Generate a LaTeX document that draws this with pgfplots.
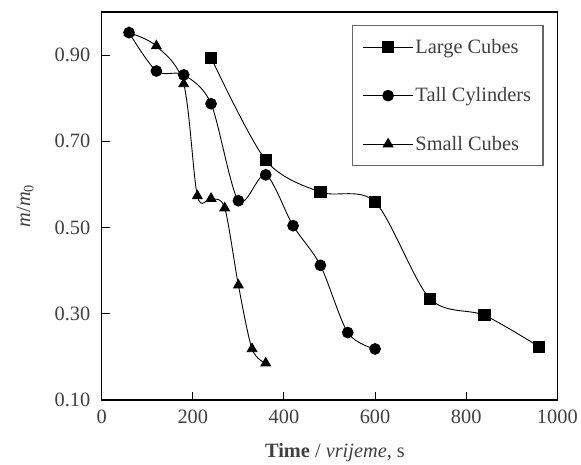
\documentclass[border=0pt]{standalone}
\usepackage{fontspec}
\setmainfont{Liberation Serif}
\usepackage{pgfplots}
\pgfplotsset{compat=1.18}

\begin{document}
\begin{tikzpicture}
\begin{axis}[
  scale only axis, width=457bp, height=389bp,
  xmin=0, xmax=1000, ymin=0.1, ymax=1.0,
  xtick={0,200,400,600,800,1000},
  ytick={0.1,0.3,0.5,0.7,0.9},
  /pgf/number format/assume math mode=true,
  /pgf/number format/1000 sep={},
  yticklabel style={/pgf/number format/.cd, fixed, fixed zerofill, precision=2,
    /tikz/.cd, xshift=-8bp},
  xticklabel style={yshift=-7bp},
  ticklabel style={font=\fontsize{20.5}{24}\selectfont, text=black!75},
  tick align=inside, tick pos=left, major tick length=8bp,
  tick style={line width=1bp, black},
  axis line style={line width=1.5bp},
  xlabel={\textbf{Time} / \textit{vrijeme}, s},
  ylabel={\textit{m}/\textit{m}\textsubscript{0}},
  label style={font=\fontsize{20.5}{24}\selectfont, text=black!75},
  xlabel style={at={(axis description cs:0.512,-0.135)}, anchor=center},
  ylabel style={at={(axis description cs:-0.168,0.5)}, anchor=center, rotate=0},
  legend style={at={(rel axis cs:0.97,0.967)}, anchor=north east,
    draw=black!60, line width=1.2bp, font=\fontsize{20.5}{24}\selectfont,
    text=black!75, row sep=29bp, inner xsep=10bp, inner ysep=12bp},
  legend cell align=left,
  legend image code/.code={\draw[mark repeat=2,mark phase=2,#1]
    plot coordinates {(0bp,0bp) (25bp,0bp) (50bp,0bp)};},
]
\addplot[black, line width=0.9bp, smooth, tension=0.5,
  mark=square*, mark size=5.6bp, mark options={solid, fill=black}] coordinates {
  (240,0.894) (360,0.656) (480,0.582) (600,0.559) (720,0.335) (840,0.296) (960,0.223)
};
\addlegendentry{Large Cubes}
\addplot[black, line width=0.9bp, smooth, tension=0.5,
  mark=*, mark size=5.4bp, mark options={solid, fill=black}] coordinates {
  (60,0.952) (120,0.863) (180,0.854) (240,0.787) (300,0.562) (360,0.622)
  (420,0.504) (480,0.412) (540,0.256) (600,0.218)
};
\addlegendentry{Tall Cylinders}
\addplot[black, line width=0.9bp, smooth, tension=0.5,
  mark=triangle*, mark size=5.6bp, mark options={solid, fill=black}] coordinates {
  (60,0.952) (120,0.921) (180,0.833) (210,0.573) (240,0.567) (270,0.545)
  (300,0.366) (330,0.218) (360,0.185)
};
\addlegendentry{Small Cubes}
\end{axis}
\path ([xshift=-102bp,yshift=-62bp]current axis.south west)
      ([xshift=22bp,yshift=12bp]current axis.north east);
\end{tikzpicture}
\end{document}
